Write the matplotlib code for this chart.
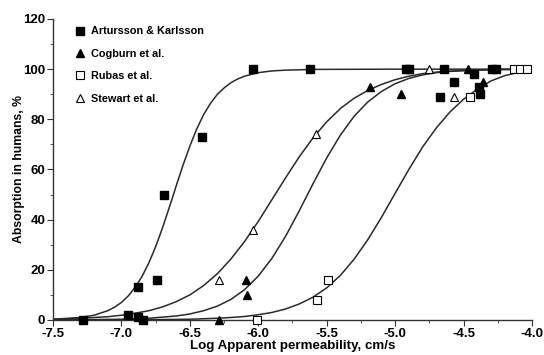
import matplotlib
matplotlib.use("Agg")
import matplotlib.pyplot as plt
from matplotlib.ticker import MultipleLocator

plt.rcParams['font.family'] = ['Liberation Sans', 'DejaVu Sans']
plt.rcParams['font.weight'] = 'bold'

# measured points (log Papp, % absorbed)
art_x = [-7.28, -6.95, -6.88, -6.88, -6.84, -6.74, -6.69, -6.41, -6.04, -5.62,
         -4.92, -4.90, -4.67, -4.64, -4.57, -4.42, -4.39, -4.38, -4.29, -4.26]
art_y = [0, 2, 13, 1, 0, 16, 50, 73, 100, 100,
         100, 100, 89, 100, 95, 98, 93, 90, 100, 100]

cog_x = [-6.29, -6.09, -6.08, -5.18, -4.96, -4.47, -4.36]
cog_y = [0, 16, 10, 93, 90, 100, 95]

rub_x = [-6.01, -5.57, -5.49, -4.45, -4.13, -4.09, -4.04]
rub_y = [0, 8, 16, 89, 100, 100, 100]

ste_x = [-6.29, -6.04, -5.58, -4.75, -4.57]
ste_y = [16, 36, 74, 100, 89]

# fitted curves
fit1_x = [-7.5, -7.3, -7.2, -7.1, -7.05, -7.0, -6.95, -6.9, -6.85, -6.8, -6.75,
          -6.7, -6.65, -6.6, -6.55, -6.5, -6.45, -6.4, -6.35, -6.3, -6.25,
          -6.2, -6.15, -6.1, -6.0, -5.9, -5.8, -5.6, -5.0, -4.0]
fit1_y = [0.3, 1.0, 1.9, 3.7, 5.1, 7.0, 9.6, 13.0, 17.3, 22.7, 29.2,
          36.7, 44.9, 53.4, 61.7, 69.3, 76.1, 81.8, 86.3, 89.9, 92.5,
          94.6, 96.1, 97.2, 98.6, 99.3, 99.6, 99.9, 100, 100]

fit2_x = [-7.5, -7.3, -7.1, -7.0, -6.9, -6.8, -6.7, -6.6, -6.5, -6.4, -6.3,
          -6.2, -6.1, -6.0, -5.9, -5.8, -5.7, -5.6, -5.5, -5.4, -5.3, -5.2,
          -5.1, -5.0, -4.9, -4.8, -4.7, -4.6, -4.5, -4.3, -4.0]
fit2_y = [0.3, 0.7, 1.3, 1.9, 2.7, 3.7, 5.2, 7.3, 10.0, 13.7, 18.4,
          24.3, 31.3, 39.3, 48.0, 56.7, 65.1, 72.6, 79.0, 84.3, 88.4, 91.5,
          93.9, 95.8, 97.2, 98.2, 98.8, 99.2, 99.5, 99.8, 100]

fit3_x = [-7.5, -7.0, -6.8, -6.6, -6.5, -6.4, -6.3, -6.2, -6.1, -6.0, -5.9,
          -5.8, -5.7, -5.6, -5.5, -5.4, -5.3, -5.2, -5.1, -5.0, -4.9, -4.8,
          -4.7, -4.6, -4.5, -4.3, -4.0]
fit3_y = [0.0, 0.3, 0.7, 1.6, 2.4, 3.7, 5.5, 8.2, 12.1, 17.5, 24.6,
          33.4, 43.6, 54.3, 64.6, 73.7, 81.2, 86.9, 91.1, 94.2, 96.3, 97.7,
          98.6, 99.1, 99.4, 99.8, 100]

fit4_x = [-7.5, -7.0, -6.5, -6.3, -6.2, -6.1, -6.0, -5.9, -5.8, -5.7, -5.6,
          -5.5, -5.4, -5.3, -5.2, -5.1, -5.0, -4.9, -4.8, -4.7, -4.6, -4.5,
          -4.4, -4.3, -4.2, -4.1, -4.0]
fit4_y = [0.0, 0.0, 0.3, 0.7, 1.0, 1.4, 2.1, 3.0, 4.4, 6.4, 9.1,
          12.8, 17.8, 24.2, 32.0, 40.9, 50.5, 60.0, 68.9, 76.5, 82.9, 88.0,
          92.0, 95.3, 97.4, 98.7, 99.5]

fig = plt.figure(figsize=(5.44, 3.55), dpi=100)
ax = fig.add_axes([0.0974, 0.0986, 0.8805, 0.8479])

line_kw = dict(color='#2a2a2a', lw=1.1, zorder=2)
for fx, fy in [(fit1_x, fit1_y), (fit2_x, fit2_y), (fit3_x, fit3_y), (fit4_x, fit4_y)]:
    ax.plot(fx, fy, **line_kw)

ax.plot(art_x, art_y, 's', ms=6, color='black', ls='none', clip_on=False, zorder=3,
        label='Artursson & Karlsson')
ax.plot(cog_x, cog_y, '^', ms=5.5, color='black', ls='none', clip_on=False, zorder=3,
        label='Cogburn et al.')
ax.plot(rub_x, rub_y, 's', ms=5.5, mfc='white', mec='black', mew=0.8, ls='none',
        clip_on=False, zorder=3, label='Rubas et al.')
ax.plot(ste_x, ste_y, '^', ms=5.5, mfc='white', mec='black', mew=0.8, ls='none',
        clip_on=False, zorder=3, label='Stewart et al.')

ax.set_xlim(-7.5, -4.0)
ax.set_ylim(0, 120)
ax.xaxis.set_major_locator(MultipleLocator(0.5))
ax.xaxis.set_minor_locator(MultipleLocator(0.25))
ax.yaxis.set_major_locator(MultipleLocator(20))
ax.yaxis.set_minor_locator(MultipleLocator(10))
ax.set_xticklabels(['%.1f' % v for v in ax.get_xticks()])

for s in ['top', 'right']:
    ax.spines[s].set_visible(False)
for s in ['bottom', 'left']:
    ax.spines[s].set_color('#333333')
    ax.spines[s].set_linewidth(1.0)

ax.tick_params(which='major', length=4, width=0.8, color='#333333',
               labelsize=9.5, pad=1.5)
ax.tick_params(which='minor', length=2.5, width=0.7, color='#555555')

ax.set_xlabel('Log Apparent permeability, cm/s', fontsize=9.6, fontweight='bold', labelpad=0.5)
ax.set_ylabel('Absorption in humans, %', fontsize=8.8, fontweight='bold', labelpad=-1)

ax.legend(loc='upper left', bbox_to_anchor=(0.035, 0.99), frameon=False,
          borderaxespad=0, handlelength=1.0, handletextpad=0.6, labelspacing=1.15,
          prop={'size': 7.8, 'weight': 'bold'})

fig.savefig('out.png', dpi=100)
